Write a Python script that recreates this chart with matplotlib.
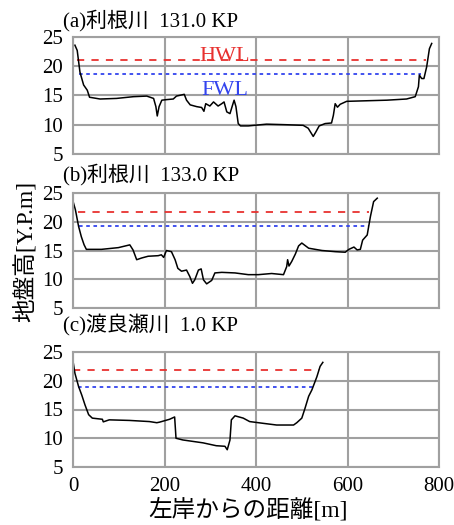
"""
River cross sections: ground height vs. distance from left bank
"""

import matplotlib
matplotlib.use('Agg')
import matplotlib.pyplot as plt

plt.rcParams['font.family'] = ['Liberation Serif', 'Noto Sans CJK JP', 'DejaVu Sans']

###############################################################################
# (a) Tone River 131.0 KP
x_a = [4, 9, 15, 23, 31, 36, 59, 95, 132, 161, 176, 181, 184, 188, 194, 205,
       219, 226, 243, 248, 256, 270, 281, 286, 290, 299, 307, 317, 325, 330,
       336, 343, 348, 352, 356, 361, 366, 383, 423, 467, 503, 514, 525, 531,
       538, 551, 565, 569, 573, 578, 584, 598, 642, 686, 729, 748, 755, 757,
       762, 767, 773, 779, 784]
y_a = [23.6, 22.7, 19.0, 16.8, 15.9, 14.7, 14.4, 14.5, 14.8, 14.9, 14.5, 13.1,
       11.5, 13.1, 14.2, 14.3, 14.4, 14.9, 15.2, 14.2, 13.4, 13.1, 12.95, 12.3,
       13.6, 13.2, 13.9, 13.2, 13.6, 13.9, 12.2, 11.9, 13.2, 14.2, 13.1, 10.2,
       9.8, 9.8, 10.1, 10.0, 9.9, 9.4, 8.0, 8.8, 9.8, 10.2, 10.3, 11.6, 13.6,
       13.0, 13.5, 14.0, 14.1, 14.2, 14.4, 14.8, 16.5, 18.5, 17.9, 17.9, 19.9,
       23.0, 23.9]
hwl_a, hwl_a_x = 21.1, [9, 771]
fwl_a, fwl_a_x = 18.6, [14, 760]

# (b) Tone River 133.0 KP
x_b = [0, 5, 12, 18, 24, 29, 62, 99, 124, 131, 139, 150, 164, 186, 193, 198,
       204, 215, 223, 229, 237, 248, 255, 261, 266, 274, 280, 285, 292, 303,
       310, 325, 354, 383, 405, 434, 460, 467, 469, 472, 478, 486, 493, 500,
       515, 544, 573, 595, 603, 614, 621, 628, 633, 643, 650, 657, 665]
y_b = [23.5, 22.1, 19.2, 17.4, 16.0, 15.2, 15.2, 15.5, 15.98, 15.1, 13.4, 13.7,
       14.0, 14.1, 14.25, 13.8, 15.0, 14.8, 13.4, 11.9, 11.4, 11.6, 10.5, 9.3,
       9.9, 11.6, 11.8, 9.9, 9.2, 9.8, 11.1, 11.2, 11.1, 10.8, 10.8, 11.0, 10.8,
       12.2, 13.4, 12.3, 13.1, 14.4, 15.8, 16.3, 15.4, 15.0, 14.8, 14.7, 15.2,
       15.6, 15.1, 15.2, 16.8, 17.7, 20.9, 23.5, 24.1]
hwl_b, hwl_b_x = 21.7, [11, 646]
fwl_b, fwl_b_x = 19.2, [12, 646]

# (c) Watarase River 1.0 KP
x_c = [0, 4, 12, 19, 26, 34, 42, 64, 66, 79, 123, 167, 183, 189, 211, 222, 225,
       240, 284, 313, 332, 337, 343, 346, 354, 372, 386, 415, 445, 482, 489,
       500, 507, 515, 522, 533, 540, 546]
y_c = [23.3, 21.3, 19.0, 17.5, 15.8, 14.1, 13.5, 13.3, 12.85, 13.2, 13.1, 12.9,
       12.7, 12.8, 13.3, 13.7, 10.0, 9.7, 9.2, 8.7, 8.6, 8.0, 9.7, 13.2, 13.9,
       13.5, 12.9, 12.6, 12.3, 12.3, 12.7, 13.5, 15.2, 17.3, 18.4, 20.7, 22.5,
       23.2]
hwl_c, hwl_c_x = 21.8, [0, 537]
fwl_c, fwl_c_x = 18.9, [10, 529]

titles = ['(a)利根川  131.0 KP', '(b)利根川  133.0 KP', '(c)渡良瀬川  1.0 KP']
x_ticks = [0, 200, 400, 600, 800]
y_ticks = [5, 10, 15, 20, 25]

panels = [
    (x_a, y_a, hwl_a, hwl_a_x, fwl_a, fwl_a_x),
    (x_b, y_b, hwl_b, hwl_b_x, fwl_b, fwl_b_x),
    (x_c, y_c, hwl_c, hwl_c_x, fwl_c, fwl_c_x),
]

###############################################################################
fig = plt.figure(figsize=(4.54, 5.25), dpi=100)

# axes boxes in figure fraction: (bottom, top)
boxes = [(0.7067, 0.9295), (0.4133, 0.6324), (0.1105, 0.3295)]
title_y = [0.960, 0.667, 0.381]
grid_c = '#a0a0a0'

for i, (xs, ys, hwl, hx, fwl, fx) in enumerate(panels):
    bot, top = boxes[i]
    ax = fig.add_axes([0.161, bot, 0.806, top - bot])
    ax.plot(hx, [hwl, hwl], color='#e8312f', lw=1.3, ls=(0, (4, 4)))
    ax.plot(fx, [fwl, fwl], color='#3344ee', lw=1.3, ls=(0, (2, 2)))
    ax.plot(xs, ys, color='black', lw=1.1)

    ax.set_xlim(0, 800)
    ax.set_ylim(5, 25)
    ax.set_xticks(x_ticks)
    ax.set_yticks(y_ticks)
    ax.grid(True, color=grid_c, lw=1.5)
    ax.set_axisbelow(True)
    for s in ax.spines.values():
        s.set_color(grid_c)
        s.set_linewidth(1.5)
    ax.tick_params(length=0, labelsize=15, pad=7)
    if i < 2:
        ax.set_xticklabels([])
    fig.text(0.139, title_y[i], titles[i], fontsize=15, va='center', ha='left')

    if i == 0:
        ax.text(332, 21.7, 'HWL', color='#e8312f', fontsize=16,
                ha='center', va='center')
        ax.text(332, 15.9, 'FWL', color='#3344ee', fontsize=16,
                ha='center', va='center')

fig.text(0.055, 0.522, '地盤高[Y.P.m]', rotation=90, fontsize=17,
         ha='center', va='center')
fig.text(0.546, 0.029, '左岸からの距離[m]', fontsize=17,
         ha='center', va='center')

fig.savefig('out.png', dpi=100)
